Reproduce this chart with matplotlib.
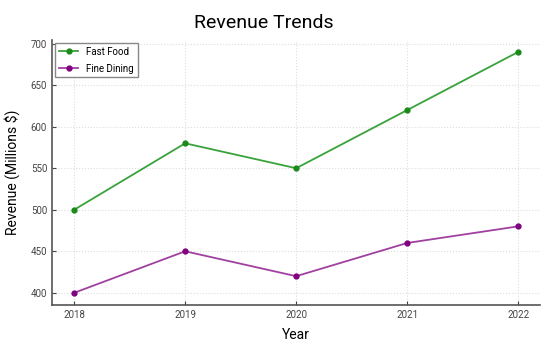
import matplotlib.pyplot as plt

# data
years = [2018, 2019, 2020, 2021, 2022]
fast_food = [500, 580, 550, 620, 690]
fine_dining = [400, 450, 420, 460, 480]

plt.rcParams['font.family'] = ['Roboto', 'DejaVu Sans']

fig = plt.figure(figsize=(5.5, 3.5), dpi=100)
ax = fig.add_axes([0.0945, 0.129, 0.888, 0.757])

ax.plot(years, fast_food, color='#3aa23a', lw=1.3, marker='o', ms=3.5,
        mfc='#1a8a1a', mec='#1a8a1a', label='Fast Food')
ax.plot(years, fine_dining, color='#a040a0', lw=1.3, marker='o', ms=3.5,
        mfc='#800080', mec='#800080', label='Fine Dining')

ax.set_xticks(years)
ax.set_yticks([400, 450, 500, 550, 600, 650, 700])
ax.tick_params(labelsize=7, colors='#444444', direction='in', length=3)
ax.grid(True, ls=':', color='#dddddd', lw=0.8)

for s in ['top', 'right']:
    ax.spines[s].set_visible(False)
for s in ['left', 'bottom']:
    ax.spines[s].set_color('#555555')
    ax.spines[s].set_linewidth(1.2)

fig.suptitle('Revenue Trends', fontsize=14, x=0.48, y=0.96, va='top')
ax.set_xlabel('Year', fontsize=10, labelpad=6)
ax.set_ylabel('Revenue (Millions $)', fontsize=10)
ax.yaxis.set_label_coords(-0.065, 0.5)

leg = ax.legend(loc='upper left', fontsize=7, fancybox=False, framealpha=1,
                edgecolor='#888888', borderaxespad=0.3, handlelength=2.0,
                labelspacing=0.7)

fig.savefig('out.png', dpi=100)
